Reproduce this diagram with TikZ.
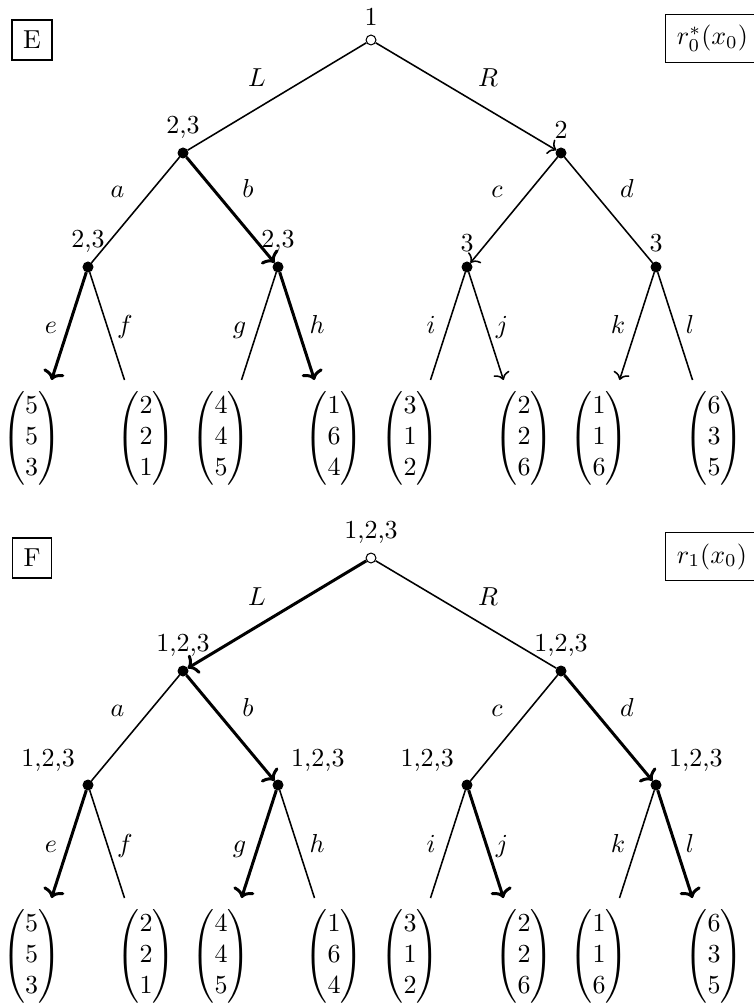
\documentclass[tikz,border=0pt]{standalone}
\usepackage{amsmath}
\usetikzlibrary{arrows.meta}
\begin{document}
\begin{tikzpicture}[x={(0.3846pt,0)},y={(0,-0.3846pt)},
  dec/.style={circle,fill=black,draw=black,line width=0.4pt,inner sep=0pt,minimum size=3.8pt,label distance=0.6pt},
  rootdot/.style={circle,fill=white,draw=black,line width=0.4pt,inner sep=0pt,minimum size=3.8pt,label distance=0.6pt},
  thinline/.style={line width=0.6pt},
  thickline/.style={line width=1.15pt},
  tipthin/.style={-{Computer Modern Rightarrow[width=6.4pt,length=2.8pt]}},
  tipbold/.style={-{Computer Modern Rightarrow[width=8.4pt,length=3.5pt]}},
  elab/.style={anchor=base,inner sep=0pt},
  tagbox/.style={draw,line width=0.5pt,inner sep=4.3pt},
  rbox/.style={tagbox,anchor=west,align=left,text width=30pt,minimum height=18.6pt},
  payoff/.style={inner sep=0pt}
]
\useasboundingbox (0,0) rectangle (754,1007);

% ---------------- Panel E ----------------
\node[tagbox] (Etag) at (32,40) {E};
\node[rbox] (Erho) at (665,38.5) {$r_0^*(x_0)$};

\node[rootdot,label={above:1}] (Er) at (371,40) {};
\node[dec,label={above:{2,3}}] (EL) at (183,153) {};
\node[dec,label={above:2}] (ER) at (561,153) {};
\node[dec,label={above:{2,3}}] (ELL) at (88,267) {};
\node[dec,label={above:{2,3}}] (ELR) at (278,267) {};
\node[dec,label={above:3}] (ERL) at (467,267) {};
\node[dec,label={above:3}] (ERR) at (656,267) {};

\coordinate (Ee) at (51.5,380);
\coordinate (Ef) at (124.5,380);
\coordinate (Eg) at (241.5,380);
\coordinate (Eh) at (314.5,380);
\coordinate (Ei) at (430.5,380);
\coordinate (Ej) at (503.5,380);
\coordinate (Ek) at (619.5,380);
\coordinate (El) at (692.5,380);

\draw[thinline] (Er) -- (EL);
\draw[thinline,tipthin] (Er) -- (ER);
\draw[thinline] (EL) -- (ELL);
\draw[thickline,tipbold] (EL) -- (ELR);
\draw[thinline,tipthin] (ER) -- (ERL);
\draw[thinline] (ER) -- (ERR);
\draw[thickline,tipbold] (ELL) -- (Ee);
\draw[thinline] (ELL) -- (Ef);
\draw[thinline] (ELR) -- (Eg);
\draw[thickline,tipbold] (ELR) -- (Eh);
\draw[thinline] (ERL) -- (Ei);
\draw[thinline,tipthin] (ERL) -- (Ej);
\draw[thinline,tipthin] (ERR) -- (Ek);
\draw[thinline] (ERR) -- (El);

\node[elab] (ElL) at (257,87) {$L$};
\node[elab] (ElR) at (488,87) {$R$};
\node[elab] (Ela) at (117.5,198) {$a$};
\node[elab] (Elb) at (248,198) {$b$};
\node[elab] (Elc) at (497,198) {$c$};
\node[elab] (Eld) at (627,198) {$d$};
\node[elab] (Ele) at (51,334) {$e$};
\node[elab] (Elf) at (125,334) {$f$};
\node[elab] (Elg) at (239.5,334) {$g$};
\node[elab] (Elh) at (317,334) {$h$};
\node[elab] (Eli) at (431,334) {$i$};
\node[elab] (Elj) at (502,334) {$j$};
\node[elab] (Elk) at (618,334) {$k$};
\node[elab] (Ell) at (690,334) {$l$};

\node[payoff] (Ep1) at (31.5,438.5) {$\begin{pmatrix}5\\5\\3\end{pmatrix}$};
\node[payoff] (Ep2) at (146,438.5) {$\begin{pmatrix}2\\2\\1\end{pmatrix}$};
\node[payoff] (Ep3) at (221,438.5) {$\begin{pmatrix}4\\4\\5\end{pmatrix}$};
\node[payoff] (Ep4) at (334,438.5) {$\begin{pmatrix}1\\6\\4\end{pmatrix}$};
\node[payoff] (Ep5) at (410,438.5) {$\begin{pmatrix}3\\1\\2\end{pmatrix}$};
\node[payoff] (Ep6) at (524,438.5) {$\begin{pmatrix}2\\2\\6\end{pmatrix}$};
\node[payoff] (Ep7) at (599,438.5) {$\begin{pmatrix}1\\1\\6\end{pmatrix}$};
\node[payoff] (Ep8) at (714,438.5) {$\begin{pmatrix}6\\3\\5\end{pmatrix}$};

% ---------------- Panel F ----------------
\begin{scope}[shift={(0,518)}]
\node[tagbox] (Ftag) at (32,40) {F};
\node[rbox] (Frho) at (665,38.5) {$r_1(x_0)$};

\node[rootdot,label={above:{1,2,3}}] (Fr) at (371,40) {};
\node[dec,label={above:{1,2,3}}] (FL) at (183,153) {};
\node[dec,label={above:{1,2,3}}] (FR) at (561,153) {};
\node[dec,label={above left:{1,2,3}}] (FLL) at (88,267) {};
\node[dec,label={above right:{1,2,3}}] (FLR) at (278,267) {};
\node[dec,label={above left:{1,2,3}}] (FRL) at (467,267) {};
\node[dec,label={above right:{1,2,3}}] (FRR) at (656,267) {};

\coordinate (Fe) at (51.5,380);
\coordinate (Ff) at (124.5,380);
\coordinate (Fg) at (241.5,380);
\coordinate (Fh) at (314.5,380);
\coordinate (Fi) at (430.5,380);
\coordinate (Fj) at (503.5,380);
\coordinate (Fk) at (619.5,380);
\coordinate (Fl) at (692.5,380);

\draw[thickline,tipbold] (Fr) -- (FL);
\draw[thinline] (Fr) -- (FR);
\draw[thinline] (FL) -- (FLL);
\draw[thickline,tipbold] (FL) -- (FLR);
\draw[thinline] (FR) -- (FRL);
\draw[thickline,tipbold] (FR) -- (FRR);
\draw[thickline,tipbold] (FLL) -- (Fe);
\draw[thinline] (FLL) -- (Ff);
\draw[thickline,tipbold] (FLR) -- (Fg);
\draw[thinline] (FLR) -- (Fh);
\draw[thinline] (FRL) -- (Fi);
\draw[thickline,tipbold] (FRL) -- (Fj);
\draw[thinline] (FRR) -- (Fk);
\draw[thickline,tipbold] (FRR) -- (Fl);

\node[elab] (FlL) at (257,87) {$L$};
\node[elab] (FlR) at (488,87) {$R$};
\node[elab] (Fla) at (117.5,198) {$a$};
\node[elab] (Flb) at (248,198) {$b$};
\node[elab] (Flc) at (497,198) {$c$};
\node[elab] (Fld) at (627,198) {$d$};
\node[elab] (Fle) at (51,334) {$e$};
\node[elab] (Flf) at (125,334) {$f$};
\node[elab] (Flg) at (239.5,334) {$g$};
\node[elab] (Flh) at (317,334) {$h$};
\node[elab] (Fli) at (431,334) {$i$};
\node[elab] (Flj) at (502,334) {$j$};
\node[elab] (Flk) at (618,334) {$k$};
\node[elab] (Fll) at (690,334) {$l$};

\node[payoff] (Fp1) at (31.5,438.5) {$\begin{pmatrix}5\\5\\3\end{pmatrix}$};
\node[payoff] (Fp2) at (146,438.5) {$\begin{pmatrix}2\\2\\1\end{pmatrix}$};
\node[payoff] (Fp3) at (221,438.5) {$\begin{pmatrix}4\\4\\5\end{pmatrix}$};
\node[payoff] (Fp4) at (334,438.5) {$\begin{pmatrix}1\\6\\4\end{pmatrix}$};
\node[payoff] (Fp5) at (410,438.5) {$\begin{pmatrix}3\\1\\2\end{pmatrix}$};
\node[payoff] (Fp6) at (524,438.5) {$\begin{pmatrix}2\\2\\6\end{pmatrix}$};
\node[payoff] (Fp7) at (599,438.5) {$\begin{pmatrix}1\\1\\6\end{pmatrix}$};
\node[payoff] (Fp8) at (714,438.5) {$\begin{pmatrix}6\\3\\5\end{pmatrix}$};
\end{scope}
\end{tikzpicture}
\end{document}
